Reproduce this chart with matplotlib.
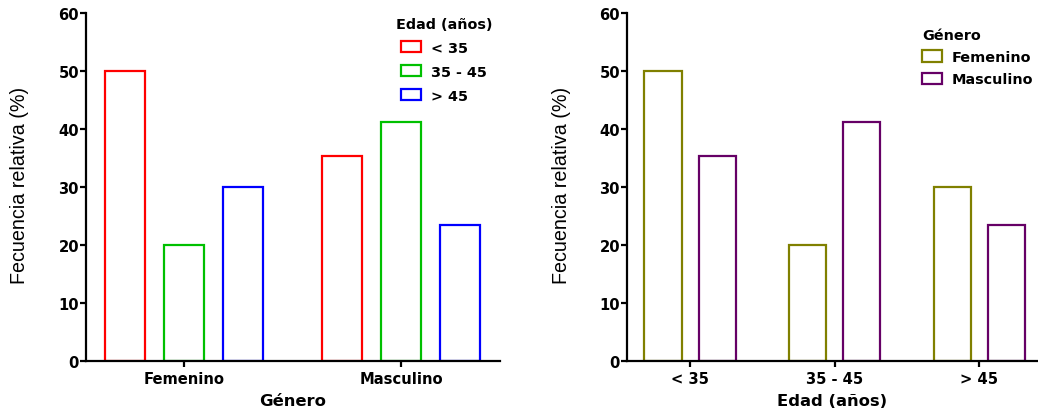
import numpy as np
import matplotlib
matplotlib.use("Agg")
import matplotlib.pyplot as plt
from matplotlib.patches import Patch

plt.rcParams["font.family"] = ["DejaVu Sans"]

# Data: relative frequency (%) by gender and age group
generos = ["Femenino", "Masculino"]
edades = ["< 35", "35 - 45", "> 45"]
femenino = [50.0, 20.0, 30.0]
masculino = [35.29, 41.18, 23.53]

colores_edad = ["#FF0000", "#00C000", "#0000FF"]
colores_genero = ["#808000", "#660066"]

fig = plt.figure(figsize=(10.38, 4.14), dpi=100)
ax1 = fig.add_axes([86 / 1038, 1 - 362 / 414, 414 / 1038, 348 / 414])
ax2 = fig.add_axes([627 / 1038, 1 - 362 / 414, 410 / 1038, 348 / 414])

lw = 1.6
tick_fs = 10.6
xlab_fs = 11.8
leg_fs = 10.4


def style_axes(ax):
    for s in ("top", "right"):
        ax.spines[s].set_visible(False)
    for s in ("left", "bottom"):
        ax.spines[s].set_linewidth(1.6)
    ax.tick_params(axis="both", direction="out", length=4, width=1.6,
                   labelsize=tick_fs)
    ax.tick_params(axis="y", pad=1)
    ax.tick_params(axis="x", pad=3)
    ax.set_ylim(0, 60)
    ax.set_yticks(np.arange(0, 61, 10))
    for lbl in ax.get_xticklabels() + ax.get_yticklabels():
        lbl.set_fontweight("bold")
    ax.set_ylabel("Fecuencia relativa (%)", fontsize=14.2,
                  family="Liberation Sans")


def add_legend(ax, handles, labels, title, anchor, align, spacing):
    ax.legend(handles, labels, title=title, loc="upper left",
              bbox_to_anchor=anchor, frameon=False,
              prop={"weight": "bold", "size": leg_fs},
              title_fontproperties={"weight": "bold", "size": leg_fs},
              alignment=align, handlelength=1.37, handleheight=0.82,
              handletextpad=0.7, labelspacing=spacing, borderpad=0,
              borderaxespad=0)


# Left panel: grouped by gender, coloured by age group
por_genero = np.array([femenino, masculino])  # rows: gender, cols: age
x1 = np.arange(len(generos))
w1, off1 = 0.184, 0.272
for j, (edad, col) in enumerate(zip(edades, colores_edad)):
    ax1.bar(x1 + (j - 1) * off1, por_genero[:, j], width=w1,
            facecolor="white", edgecolor=col, linewidth=lw)
ax1.set_xlim(-0.452, 1.456)
ax1.set_xticks(x1)
ax1.set_xticklabels(generos)
style_axes(ax1)
ax1.yaxis.set_label_coords(-0.137, 0.507)
ax1.set_xlabel("Género", fontsize=xlab_fs, fontweight="bold", labelpad=5)
h1 = [Patch(facecolor="white", edgecolor=c, linewidth=lw) for c in colores_edad]
add_legend(ax1, h1, edades, "Edad (años)", (0.748, 0.989), "center", 0.69)

# Right panel: grouped by age group, coloured by gender
x2 = np.arange(len(edades))
w2, off2 = 0.256, 0.187
for k, (serie, col) in enumerate(zip([femenino, masculino], colores_genero)):
    ax2.bar(x2 + (k - 0.5) * 2 * off2, serie, width=w2,
            facecolor="white", edgecolor=col, linewidth=lw)
ax2.set_xlim(-0.436, 2.40)
ax2.set_xticks(x2)
ax2.set_xticklabels(edades)
style_axes(ax2)
ax2.yaxis.set_label_coords(-0.136, 0.507)
ax2.set_xlabel("Edad (años)", fontsize=xlab_fs, fontweight="bold", labelpad=5)
h2 = [Patch(facecolor="white", edgecolor=c, linewidth=lw) for c in colores_genero]
add_legend(ax2, h2, generos, "Género", (0.72, 0.958), "left", 0.58)

fig.savefig("out.png", dpi=100, facecolor="white")
